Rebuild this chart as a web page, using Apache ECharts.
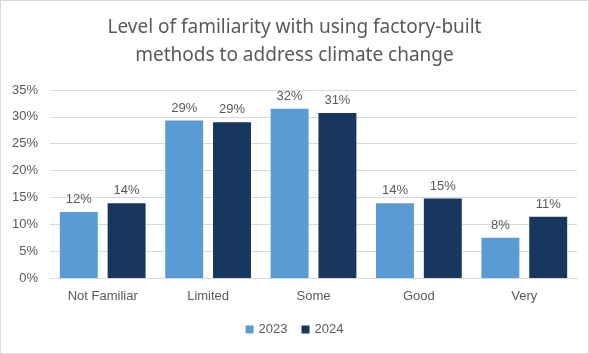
<!DOCTYPE html>
<html><head><meta charset="utf-8">
<script src="https://cdn.jsdelivr.net/npm/echarts@6/dist/echarts.min.js"></script>
<style>html,body{margin:0;padding:0;background:#fff}#c{width:589px;height:354px;box-sizing:border-box;border:1px solid #d9d9d9}</style>
</head><body><div id="c"></div>
<script>
const categories = ["Not Familiar", "Limited", "Some", "Good", "Very"];
const values2023 = [12.3, 29.3, 31.5, 13.9, 7.5];
const values2024 = [13.9, 29.0, 30.7, 14.8, 11.4];
const seriesNames = ["2023", "2024"];
const titleText = "Level of familiarity with using factory-built\nmethods to address climate change";

const chart = echarts.init(document.getElementById('c'));
const fontFam = "'Noto Sans', 'Open Sans', sans-serif";
const lbl = {show:true, position:'top', distance:6, color:'#595959', fontSize:13, fontFamily:'Liberation Sans, Arial', formatter: p => Math.round(p.value) + '%'};
chart.setOption({
  animation:false,
  title:{text:titleText, left:'center', top:8, textStyle:{fontFamily:fontFam, fontWeight:'normal', fontSize:19, color:'#595959', lineHeight:28}},
  legend:{data:seriesNames, bottom:12, left:'center', itemWidth:8, itemHeight:8, icon:'rect', itemGap:14, textStyle:{color:'#595959', fontSize:13, fontFamily:'Liberation Sans, Arial'}},
  grid:{left:49, right:11, top:89, bottom:75},
  xAxis:{type:'category', data:categories, axisTick:{show:false}, axisLine:{lineStyle:{color:'#d9d9d9'}}, axisLabel:{color:'#595959', fontSize:13, margin:12, fontFamily:'Liberation Sans, Arial'}},
  yAxis:{type:'value', min:0, max:35, interval:5, axisLabel:{formatter:'{value}%', color:'#595959', fontSize:13, margin:12, fontFamily:'Liberation Sans, Arial'}, splitLine:{lineStyle:{color:'#d9d9d9'}}},
  series:[
    {name:seriesNames[0], type:'bar', data:values2023, barWidth:'36%', barGap:'26%', itemStyle:{color:'#5B9BD5'}, label:lbl},
    {name:seriesNames[1], type:'bar', data:values2024, barWidth:'36%', itemStyle:{color:'#17375E'}, label:lbl}
  ]
});
</script></body></html>
